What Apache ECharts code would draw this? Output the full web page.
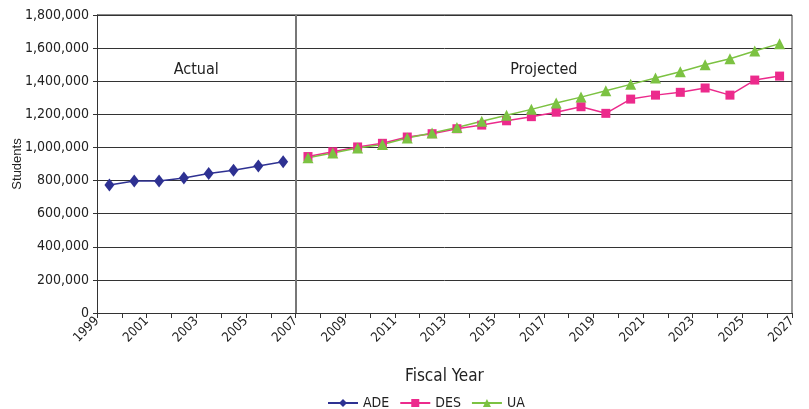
<!DOCTYPE html>
<html>
<head>
<meta charset="utf-8">
<script src="https://cdn.jsdelivr.net/npm/echarts@6/dist/echarts.min.js"></script>
<style>
  html, body { margin: 0; padding: 0; background: #fff; }
  #chart { width: 809px; height: 409px; }
</style>
</head>
<body>
<div id="chart"></div>
<script>
// fiscal years: each value sits in the middle of its year slot
const adeYears = [1999, 2000, 2001, 2002, 2003, 2004, 2005, 2006];
const adeValues = [773000, 797000, 797000, 815000, 843000, 862000, 888000, 914000];

const projYears = [2007, 2008, 2009, 2010, 2011, 2012, 2013, 2014, 2015, 2016,
  2017, 2018, 2019, 2020, 2021, 2022, 2023, 2024, 2025, 2026];
const desValues = [945000, 974000, 1003000, 1025000, 1063000, 1083000, 1113000, 1135000, 1161000, 1186000,
  1213000, 1246000, 1206000, 1292000, 1316000, 1333000, 1359000, 1316000, 1407000, 1431000];
const uaValues = [938000, 966000, 996000, 1018000, 1057000, 1087000, 1121000, 1158000, 1194000, 1230000,
  1268000, 1304000, 1343000, 1381000, 1419000, 1457000, 1500000, 1536000, 1582000, 1627000];

const splitYear = 2007;
const regions = ['Actual', 'Projected'];

const font = '"Liberation Sans Narrow", "DejaVu Sans Condensed", sans-serif';
const pts = (years, vals) => years.map((y, i) => [y + 0.5, vals[i]]);

const chart = echarts.init(document.getElementById('chart'));

const option = {
  animation: false,
  textStyle: { fontFamily: font },
  grid: { left: 97, right: 17, top: 15, bottom: 96, outerBoundsMode: 'none' },
  legend: {
    top: 391,
    left: 322,
    itemWidth: 30,
    itemHeight: 10,
    itemGap: 10,
    textStyle: { fontFamily: font, fontSize: 14, color: '#222' },
    data: ['ADE', 'DES', 'UA']
  },
  xAxis: {
    type: 'value',
    min: 1999,
    max: 2027,
    interval: 2,
    name: 'Fiscal Year',
    nameLocation: 'middle',
    nameGap: 55,
    nameMoveOverlap: false,
    nameTextStyle: { fontFamily: font, fontSize: 17, color: '#222' },
    axisLine: { show: true, lineStyle: { color: '#333', width: 1 } },
    axisTick: { show: true, length: 5, lineStyle: { color: '#333' } },
    minorTick: { show: true, splitNumber: 2, length: 5, lineStyle: { color: '#333' } },
    splitLine: { show: false },
    axisLabel: {
      rotate: 45,
      margin: 6,
      fontSize: 13,
      color: '#222',
      formatter: v => String(v)
    }
  },
  yAxis: {
    type: 'value',
    min: 0,
    max: 1800000,
    interval: 200000,
    name: 'Students',
    nameLocation: 'middle',
    nameGap: 73,
    nameMoveOverlap: false,
    nameTextStyle: { fontFamily: 'Liberation Sans, Arial, sans-serif', fontSize: 13, color: '#222' },
    axisLine: { show: true, lineStyle: { color: '#333' } },
    axisTick: { show: true, length: 4, lineStyle: { color: '#333' } },
    axisLabel: { fontSize: 14, color: '#222', margin: 8 },
    splitLine: { show: true, lineStyle: { color: '#333', width: 1 } }
  },
  series: [
    {
      name: 'ADE',
      type: 'line',
      data: pts(adeYears, adeValues),
      color: '#2e3192',
      symbol: 'diamond',
      symbolSize: [10, 13],
      lineStyle: { width: 1.5 },
      markLine: {
        silent: true,
        symbol: 'none',
        label: { show: false },
        lineStyle: { color: '#777', type: 'solid', width: 2 },
        data: [{ xAxis: splitYear }]
      },
      markArea: {
        silent: true,
        itemStyle: { color: 'rgba(0,0,0,0)' },
        label: {
          position: 'insideTop',
          distance: 47,
          fontFamily: font,
          fontSize: 16,
          color: '#222'
        },
        data: [
          [{ name: regions[0], xAxis: 1999 }, { xAxis: splitYear }],
          [{ name: regions[1], xAxis: splitYear }, { xAxis: 2027 }]
        ]
      }
    },
    {
      name: 'DES',
      type: 'line',
      data: pts(projYears, desValues),
      color: '#ec2a8c',
      symbol: 'rect',
      symbolSize: 9,
      lineStyle: { width: 1.5 }
    },
    {
      name: 'UA',
      type: 'line',
      data: pts(projYears, uaValues),
      color: '#7cc242',
      symbol: 'triangle',
      symbolSize: [11, 11],
      lineStyle: { width: 1.5 }
    }
  ],
  graphic: [
    // top and right frame of the plot area
    { type: 'line', shape: { x1: 97, y1: 15, x2: 792, y2: 15 }, style: { stroke: '#888', lineWidth: 2 }, silent: true },
    { type: 'line', shape: { x1: 792, y1: 15, x2: 792, y2: 313 }, style: { stroke: '#999', lineWidth: 2 }, silent: true }
  ]
};

chart.setOption(option);
</script>
</body>
</html>
